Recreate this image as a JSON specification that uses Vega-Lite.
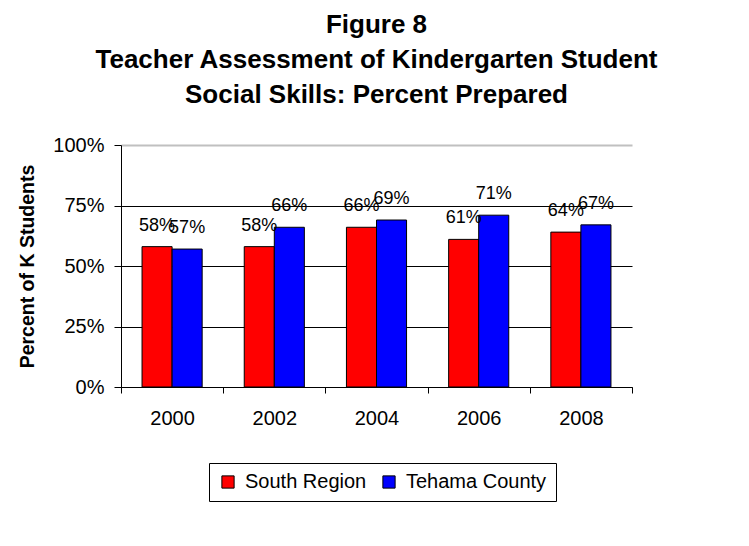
{
  "$schema": "https://vega.github.io/schema/vega-lite/v6.json",
  "width": 511,
  "height": 242,
  "autosize": {"type": "none"},
  "padding": {"left": 121, "top": 145, "right": 117, "bottom": 159},
  "background": "white",
  "title": {
    "text": ["Figure 8", "Teacher Assessment of Kindergarten Student", "Social Skills: Percent Prepared"],
    "font": "Liberation Sans",
    "fontSize": 26,
    "fontWeight": "bold",
    "lineHeight": 35,
    "anchor": "middle",
    "frame": "group",
    "offset": 27,
    "color": "black"
  },
  "data": {
    "values": [
      {"year": "2000", "series": "South Region", "value": 0.58},
      {"year": "2000", "series": "Tehama County", "value": 0.57},
      {"year": "2002", "series": "South Region", "value": 0.58},
      {"year": "2002", "series": "Tehama County", "value": 0.66},
      {"year": "2004", "series": "South Region", "value": 0.66},
      {"year": "2004", "series": "Tehama County", "value": 0.69},
      {"year": "2006", "series": "South Region", "value": 0.61},
      {"year": "2006", "series": "Tehama County", "value": 0.71},
      {"year": "2008", "series": "South Region", "value": 0.64},
      {"year": "2008", "series": "Tehama County", "value": 0.67}
    ]
  },
  "encoding": {
    "x": {
      "field": "year",
      "type": "nominal",
      "scale": {"paddingInner": 0, "paddingOuter": 0},
      "axis": {
        "title": null,
        "labelAngle": 0,
        "tickBand": "extent",
        "grid": false,
        "domainColor": "black",
        "tickColor": "black",
        "tickSize": 6,
        "labelFont": "Liberation Sans",
        "labelFontSize": 20,
        "labelColor": "black",
        "labelPadding": 15
      }
    },
    "xOffset": {"field": "series", "scale": {"paddingInner": 0, "paddingOuter": 0.7}},
    "y": {
      "field": "value",
      "type": "quantitative",
      "scale": {"domain": [0, 1]},
      "axis": {
        "values": [0, 0.25, 0.5, 0.75, 1],
        "format": ".0%",
        "title": "Percent of K Students",
        "titleFont": "Liberation Sans",
        "titleFontSize": 19.5,
        "titleFontWeight": "bold",
        "titleColor": "black",
        "titlePadding": 15,
        "labelFont": "Liberation Sans",
        "labelFontSize": 20,
        "labelColor": "black",
        "labelPadding": 10,
        "tickSize": 7,
        "tickColor": "black",
        "domainColor": "black",
        "grid": true,
        "gridColor": {"condition": {"test": "datum.value === 1", "value": "#c0c0c0"}, "value": "black"},
        "gridWidth": {"condition": {"test": "datum.value === 1", "value": 2}, "value": 1},
        "gridOpacity": 1
      }
    }
  },
  "layer": [
    {
      "mark": {"type": "bar", "stroke": "black", "strokeWidth": 1},
      "encoding": {
        "color": {
          "field": "series",
          "type": "nominal",
          "scale": {"domain": ["South Region", "Tehama County"], "range": ["#ff0000", "#0000ff"]},
          "legend": {
            "orient": "none",
            "legendX": 88,
            "legendY": 318,
            "direction": "horizontal",
            "title": null,
            "strokeColor": "black",
            "fillColor": "white",
            "padding": 9,
            "symbolType": "square",
            "symbolSize": 150,
            "symbolStrokeColor": "black",
            "symbolStrokeWidth": 1,
            "symbolOpacity": 1,
            "labelFont": "Liberation Sans",
            "labelFontSize": 20,
            "labelColor": "black",
            "columnPadding": 12,
            "labelOffset": 7
          }
        }
      }
    },
    {
      "mark": {"type": "text", "dy": -16, "baseline": "alphabetic", "fontSize": 18, "font": "Liberation Sans", "color": "black"},
      "encoding": {"text": {"field": "value", "type": "quantitative", "format": ".0%"}}
    }
  ],
  "config": {"view": {"stroke": null}}
}
